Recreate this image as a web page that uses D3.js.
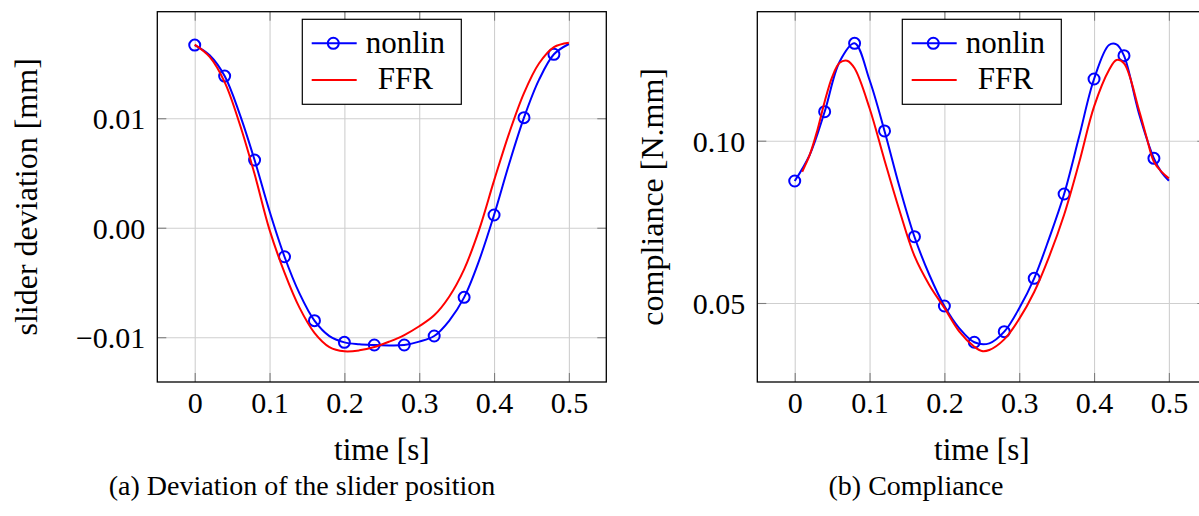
<!DOCTYPE html>
<html>
<head>
<meta charset="utf-8">
<script src="https://cdn.jsdelivr.net/npm/d3@7"></script>
<style>
  body {margin: 0; background: #fff;}
  svg {display: block;}
  text {font-family: 'Liberation Serif', 'Times New Roman', serif; fill: #000;}
</style>
</head>
<body>
<svg id="chart" width="1199" height="516"></svg>
<script>
// time samples [s]
const timeSteps = [0, 0.02, 0.04, 0.06, 0.08, 0.10, 0.12, 0.14, 0.16, 0.18, 0.20, 0.22, 0.24,
  0.26, 0.28, 0.30, 0.32, 0.34, 0.36, 0.38, 0.40, 0.42, 0.44, 0.46, 0.48, 0.50];
const markerTimes = [0, 0.04, 0.08, 0.12, 0.16, 0.20, 0.24, 0.28, 0.32, 0.36, 0.40, 0.44, 0.48];

// (a) slider deviation [mm]
const slideNonlin = [0.01668, 0.01575, 0.01385, 0.01040, 0.00618, 0.00150, -0.00265, -0.00600,
  -0.00849, -0.00990, -0.01047, -0.01064, -0.01071, -0.01075, -0.01071, -0.01040, -0.00989,
  -0.00850, -0.00636, -0.00300, 0.00116, 0.00580, 0.01005, 0.01350, 0.01584, 0.01678];
const slideFFR = [0.01672, 0.01560, 0.01330, 0.00950, 0.00490, -0.00020, -0.00410, -0.00730,
  -0.00960, -0.01090, -0.01128, -0.01120, -0.01090, -0.01040, -0.00980, -0.00900, -0.00800,
  -0.00630, -0.00380, -0.00020, 0.00430, 0.00860, 0.01230, 0.01500, 0.01650, 0.01690];

// (b) compliance [N.mm]
const complTimeNonlin = [0, 0.02, 0.04, 0.06, 0.08, 0.10, 0.12, 0.14, 0.16, 0.18, 0.20, 0.22, 0.24,
  0.26, 0.28, 0.30, 0.32, 0.34, 0.36, 0.38, 0.40, 0.42, 0.43, 0.44, 0.46, 0.48, 0.49, 0.50];
const complNonlin = [0.08758, 0.0956, 0.10893, 0.12434, 0.1300, 0.1187, 0.1030, 0.0858, 0.07042,
  0.05863, 0.04908, 0.0422, 0.0379, 0.03757, 0.04116, 0.04837, 0.0576, 0.06993, 0.08358, 0.1012,
  0.1190, 0.1295, 0.1297, 0.12619, 0.1084, 0.09457, 0.0903, 0.08768];
const complTimeFFR = [0.01, 0.02, 0.03, 0.04, 0.05, 0.06, 0.07, 0.08, 0.10, 0.12, 0.14, 0.16, 0.18,
  0.20, 0.22, 0.24, 0.25, 0.26, 0.28, 0.30, 0.32, 0.34, 0.36, 0.38, 0.40, 0.42, 0.43, 0.44, 0.46,
  0.47, 0.48, 0.49, 0.50];
const complFFR = [0.09045, 0.0956, 0.1030, 0.1120, 0.1196, 0.1240, 0.12465, 0.1223, 0.1100, 0.0940,
  0.0785, 0.0645, 0.0555, 0.0485, 0.0412, 0.03654, 0.0352, 0.03552, 0.0388, 0.0451, 0.0534,
  0.0643, 0.0772, 0.0932, 0.1105, 0.12178, 0.12486, 0.12385, 0.10946, 0.1012, 0.0935, 0.09045,
  0.0884];

const xTicks = [0, 0.1, 0.2, 0.3, 0.4, 0.5];
const slideTicks = [-0.01, 0, 0.01];
const complTicks = [0.05, 0.10];
const legendLabels = ['nonlin', 'FFR'];
const xLabel = 'time [s]';
const yLabels = ['slider deviation [mm]', 'compliance [N.mm]'];
const captions = ['(a) Deviation of the slider position', '(b) Compliance'];

const svg = d3.select('#chart');
const plotTop = 11.7; const plotBottom = 382; const plotW = 449;
const blue = '#0000ff'; const red = '#ff0000';

const zip = (ts, vs) => ts.map((t, i) => ({t: t, v: vs[i]}));

const panel = (cfg) => {
  const g = svg.append('g');
  const x = d3.scaleLinear().domain([-0.05, 0.55]).range([cfg.left, cfg.left + plotW]);
  const y = d3.scaleLinear().domain(cfg.yDomain).range([plotBottom, plotTop]);
  const h = plotBottom - plotTop;

  // grid
  g.append('g').attr('transform', `translate(0,${plotBottom})`)
      .call(d3.axisBottom(x).tickValues(xTicks).tickSize(-h).tickFormat(''))
      .call((a) => a.select('.domain').remove())
      .selectAll('line').attr('stroke', '#cfcfcf').attr('stroke-width', 1.1);
  g.append('g').attr('transform', `translate(${cfg.left},0)`)
      .call(d3.axisLeft(y).tickValues(cfg.yTicks).tickSize(-plotW).tickFormat(''))
      .call((a) => a.select('.domain').remove())
      .selectAll('line').attr('stroke', '#cfcfcf').attr('stroke-width', 1.1);

  // short tick marks on every side
  const tickLen = -9;
  [
    [d3.axisBottom(x).tickValues(xTicks), `translate(0,${plotBottom})`],
    [d3.axisTop(x).tickValues(xTicks), `translate(0,${plotTop})`],
    [d3.axisLeft(y).tickValues(cfg.yTicks), `translate(${cfg.left},0)`],
    [d3.axisRight(y).tickValues(cfg.yTicks), `translate(${cfg.left + plotW},0)`],
  ].forEach(([ax, tr]) => {
    g.append('g').attr('transform', tr)
        .call(ax.tickSize(tickLen).tickFormat(''))
        .call((a) => a.select('.domain').remove())
        .selectAll('line').attr('stroke', '#7f7f7f').attr('stroke-width', 1.1);
  });

  // tick labels
  const xl = g.append('g').attr('transform', `translate(0,${plotBottom})`)
      .call(d3.axisBottom(x).tickValues(xTicks).tickSize(0)
          .tickFormat((d) => d === 0 ? '0' : d3.format('.1f')(d)));
  xl.select('.domain').remove();
  xl.selectAll('text').attr('y', 31).attr('dy', 0).style('font-size', '30px');

  const yl = g.append('g').attr('transform', `translate(${cfg.left},0)`)
      .call(d3.axisLeft(y).tickValues(cfg.yTicks).tickSize(0).tickFormat(d3.format('.2f')));
  yl.select('.domain').remove();
  yl.selectAll('text').attr('x', -12).attr('dy', '0.35em').style('font-size', '30px');
  [xl, yl].forEach((a) => a.attr('font-family', null).attr('font-size', null));

  // axis titles
  g.append('text').attr('x', cfg.left + plotW / 2).attr('y', 460)
      .attr('text-anchor', 'middle').style('font-size', '31px').text(xLabel);
  g.append('text')
      .attr('transform', `translate(${cfg.left - cfg.yLabelOff},${(plotTop + plotBottom) / 2}) rotate(-90)`)
      .attr('text-anchor', 'middle').style('font-size', '32px').text(cfg.yLabel);

  // series
  const line = d3.line().x((d) => x(d.t)).y((d) => y(d.v)).curve(d3.curveCatmullRom.alpha(0.5));
  const nonlin = zip(cfg.tNonlin, cfg.nonlin);
  g.append('path').datum(nonlin).attr('d', line)
      .attr('fill', 'none').attr('stroke', blue).attr('stroke-width', 2);
  g.append('g').selectAll('circle')
      .data(nonlin.filter((d) => markerTimes.some((m) => Math.abs(m - d.t) < 1e-6)))
      .join('circle')
      .attr('cx', (d) => x(d.t)).attr('cy', (d) => y(d.v)).attr('r', 5.5)
      .attr('fill', 'none').attr('stroke', blue).attr('stroke-width', 2);
  g.append('path').datum(zip(cfg.tFFR, cfg.ffr)).attr('d', line)
      .attr('fill', 'none').attr('stroke', red).attr('stroke-width', 2);

  // frame
  g.append('rect').attr('x', cfg.left).attr('y', plotTop).attr('width', plotW).attr('height', h)
      .attr('fill', 'none').attr('stroke', '#000').attr('stroke-width', 1.3);

  // legend
  const lx = cfg.left + 145; const ly = 19.3;
  const lg = g.append('g').attr('transform', `translate(${lx},${ly})`);
  lg.append('rect').attr('width', 159).attr('height', 85)
      .attr('fill', '#fff').attr('stroke', '#000').attr('stroke-width', 1.2);
  legendLabels.forEach((name, i) => {
    const cy = 24 + i * 36.7;
    lg.append('line').attr('x1', 9.4).attr('x2', 54.4).attr('y1', cy).attr('y2', cy)
        .attr('stroke', i === 0 ? blue : red).attr('stroke-width', 2);
    if (i === 0) {
      lg.append('circle').attr('cx', 31).attr('cy', cy).attr('r', 5.5)
          .attr('fill', 'none').attr('stroke', blue).attr('stroke-width', 2);
    }
    lg.append('text').attr('x', 103).attr('y', cy + 9.5)
        .attr('text-anchor', 'middle').style('font-size', '31px').text(name);
  });

  // caption
  svg.append('text').attr('x', cfg.captionX).attr('y', 495)
      .attr('text-anchor', 'middle').style('font-size', '28px').text(cfg.caption);
};

panel({
  left: 157.3, yDomain: [-0.01409, 0.01973], yTicks: slideTicks,
  tNonlin: timeSteps, nonlin: slideNonlin, tFFR: timeSteps, ffr: slideFFR,
  yLabel: yLabels[0], yLabelOff: 120, caption: captions[0], captionX: 302,
});
panel({
  left: 757.3, yDomain: [0.02566, 0.13974], yTicks: complTicks,
  tNonlin: complTimeNonlin, nonlin: complNonlin, tFFR: complTimeFFR, ffr: complFFR,
  yLabel: yLabels[1], yLabelOff: 94, caption: captions[1], captionX: 916,
});
</script>
</body>
</html>
